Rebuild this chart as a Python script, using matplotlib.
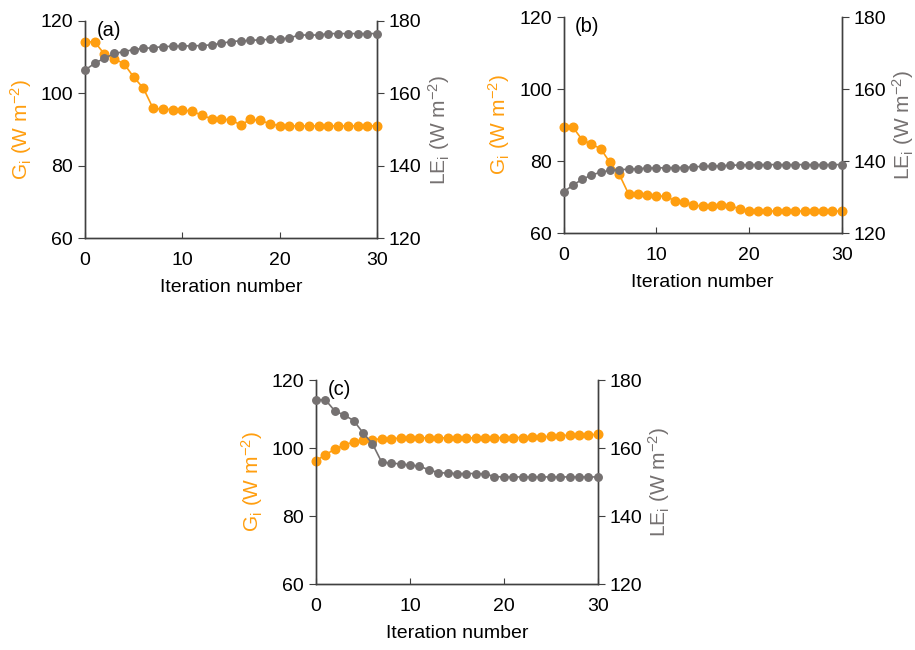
import matplotlib

matplotlib.use("Agg")
import matplotlib.pyplot as plt

plt.rcParams["font.family"] = ["Liberation Sans", "DejaVu Sans"]
plt.rcParams["mathtext.fontset"] = "custom"
plt.rcParams["mathtext.rm"] = "Liberation Sans"
plt.rcParams["mathtext.it"] = "Liberation Sans"

iterations = list(range(31))

g_a = [114.2, 114.2, 110.8, 109.5, 108.2, 104.5, 101.4, 95.8, 95.6, 95.5, 95.3,
       95.1, 93.9, 93.0, 92.8, 92.7, 91.2, 92.8, 92.5, 91.6, 91.0,
       91.0, 91.0, 91.0, 91.0, 91.0, 91.0, 91.0, 91.0, 91.0, 91.0]
le_a = [166.4, 168.3, 169.7, 171.0, 171.5, 172.1, 172.4, 172.6, 172.9, 173.0, 173.1,
        173.1, 173.2, 173.4, 173.8, 174.3, 174.5, 174.6, 174.8, 174.9, 175.0,
        175.3, 176.1, 176.1, 176.1, 176.5, 176.5, 176.5, 176.5, 176.5, 176.5]

g_b = [89.4, 89.4, 85.9, 84.7, 83.4, 79.6, 76.3, 70.9, 70.8, 70.6, 70.3,
       70.2, 69.0, 68.7, 67.8, 67.4, 67.4, 67.8, 67.6, 66.7, 66.1,
       66.1, 66.1, 66.1, 66.1, 66.1, 66.1, 66.1, 66.1, 66.1, 66.1]
le_b = [131.4, 133.3, 134.9, 136.1, 136.9, 137.4, 137.6, 137.7, 137.9, 138.0, 138.1,
        138.1, 138.2, 138.2, 138.4, 138.5, 138.6, 138.7, 138.8, 138.9, 139.0,
        139.0, 139.0, 139.0, 139.0, 139.0, 139.0, 139.0, 139.0, 139.0, 139.0]

g_c = [96.3, 98.0, 99.7, 100.9, 101.8, 102.3, 102.5, 102.7, 102.8, 102.9, 103.0,
       103.0, 103.0, 103.0, 103.0, 103.0, 103.0, 103.0, 103.0, 103.0, 103.1,
       103.1, 103.1, 103.2, 103.3, 103.4, 103.6, 103.8, 103.9, 103.9, 104.0]
le_c = [174.2, 174.2, 170.9, 169.7, 168.1, 164.5, 161.3, 155.8, 155.6, 155.3, 155.0,
        154.7, 153.6, 152.8, 152.6, 152.5, 152.5, 152.5, 152.4, 151.6, 151.5,
        151.5, 151.5, 151.5, 151.5, 151.5, 151.5, 151.5, 151.5, 151.5, 151.5]

panels = [
    ("(a)", g_a, le_a, [0.0929, 0.6338, 0.3191, 0.3340]),
    ("(b)", g_b, le_b, [0.6160, 0.6415, 0.3038, 0.3323]),
    ("(c)", g_c, le_c, [0.3454, 0.1015, 0.3079, 0.3138]),
]

ORANGE = "#FF9E0F"
GRAY = "#757171"
SPINE = "#404040"

fig = plt.figure(figsize=(9.15, 6.5), dpi=100)

for label, g, le, rect in panels:
    ax = fig.add_axes(rect)
    ax2 = ax.twinx()

    ax.plot(iterations, g, "-o", color=ORANGE, markersize=6.2, linewidth=1.2,
            clip_on=False, zorder=3)
    ax2.plot(iterations, le, "-o", color=GRAY, markersize=5.4, linewidth=1.2,
             clip_on=False, zorder=3)

    ax.set_xlim(0, 30)
    ax.set_ylim(60, 120)
    ax2.set_ylim(120, 180)
    ax.set_xticks([0, 10, 20, 30])
    ax.set_yticks([60, 80, 100, 120])
    ax2.set_yticks([120, 140, 160, 180])

    for a in (ax, ax2):
        a.spines["top"].set_visible(False)
        for s in ("left", "right", "bottom"):
            a.spines[s].set_color(SPINE)
            a.spines[s].set_linewidth(1.0)
    ax.tick_params(axis="y", direction="out", length=5, color=SPINE, labelsize=14)
    ax2.tick_params(axis="y", direction="out", length=5, color=SPINE, labelsize=14)
    ax.tick_params(axis="x", direction="in", length=4, color=SPINE, labelsize=14, pad=10)

    ax.set_xlabel("Iteration number", fontsize=14, labelpad=7)
    ax.set_ylabel(r"G$_\mathrm{i}$ (W m$^{-2}$)", color=ORANGE, fontsize=15, labelpad=5)
    ax2.set_ylabel(r"LE$_\mathrm{i}$ (W m$^{-2}$)", color=GRAY, fontsize=15,
                   rotation=90, labelpad=3)

    ax.text(0.04, 1.0, label, transform=ax.transAxes, fontsize=14.5, va="top", ha="left")

fig.savefig("out.png", dpi=100)
plt.close(fig)
